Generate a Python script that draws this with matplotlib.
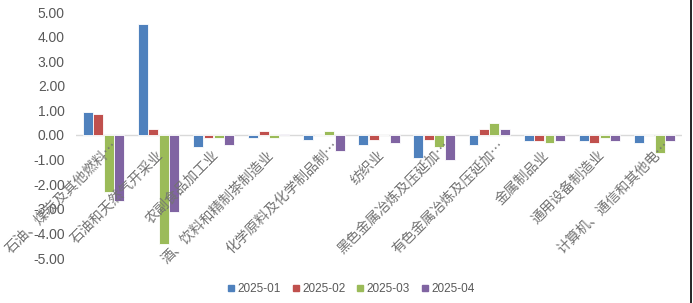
import matplotlib
matplotlib.use('Agg')
import matplotlib.pyplot as plt
import matplotlib.transforms as mtransforms
from matplotlib.lines import Line2D
import numpy as np

plt.rcParams['font.family'] = ['Noto Sans CJK SC', 'DejaVu Sans']
plt.rcParams['axes.unicode_minus'] = False

# categories and monthly values
categories = ['石油、煤炭及其他燃料…', '石油和天然气开采业', '农副食品加工业',
              '酒、饮料和精制茶制造业', '化学原料及化学制品制…', '纺织业',
              '黑色金属冶炼及压延加…', '有色金属冶炼及压延加…', '金属制品业',
              '通用设备制造业', '计算机、通信和其他电…']
months = ['2025-01', '2025-02', '2025-03', '2025-04']
v_2025_01 = [0.95, 4.50, -0.50, -0.12, -0.22, -0.41, -0.94, -0.42, -0.23, -0.23, -0.33]
v_2025_02 = [0.87, 0.24, -0.11, 0.16, 0.00, -0.22, -0.22, 0.23, -0.23, -0.33, 0.00]
v_2025_03 = [-2.33, -4.43, -0.11, -0.12, 0.16, 0.00, -0.49, 0.48, -0.33, -0.13, -0.74]
v_2025_04 = [-2.67, -3.13, -0.42, 0.06, -0.65, -0.31, -1.03, 0.23, -0.23, -0.23, -0.23]
series = [v_2025_01, v_2025_02, v_2025_03, v_2025_04]
colors = ['#4F81BD', '#C0504D', '#9BBB59', '#8064A2']

fig = plt.figure(figsize=(6.93, 3.03), dpi=100)
ax = fig.add_axes([76 / 693, 45 / 303, 606 / 693, 246 / 303])

x = np.arange(len(categories))
slot = 0.19
bar_width = 0.18
for j, vals in enumerate(series):
    ax.bar(x + (j - 1.5) * slot, vals, bar_width, color=colors[j],
           edgecolor='white', linewidth=0.6, label=months[j], zorder=2)

ax.axhline(0, color='#D9D9D9', linewidth=1, zorder=1)
ax.set_xlim(-0.5, len(categories) - 0.5)
ax.set_ylim(-5, 5)
ax.set_yticks(np.arange(-5, 6, 1))
ax.set_yticklabels([f'{v:.2f}' for v in np.arange(-5, 6, 1)],
                   fontfamily='Liberation Sans', fontsize=10, color='#595959')
ax.tick_params(axis='y', length=0, pad=8)
ax.set_xticks([])
for s in ax.spines.values():
    s.set_visible(False)

# category labels hang from the zero line, rotated 45 degrees;
# truncated ones let the ellipsis stick out past the anchor
for i, name in enumerate(categories):
    if name.endswith('…'):
        dx, dy = 12.8, -8.2
    else:
        dx, dy = 3, -18
    trans = mtransforms.offset_copy(ax.transData, fig=fig, x=dx, y=dy, units='dots')
    ax.text(i, 0, name, transform=trans, rotation=45, ha='right', va='center',
            rotation_mode='anchor', fontsize=10, color='#737373', zorder=3)

handles = [Line2D([], [], marker='s', linestyle='none', markersize=5,
                  markerfacecolor=c, markeredgecolor=c) for c in colors]
fig.legend(handles, months, loc='center', bbox_to_anchor=(0.506, 0.046), ncol=4,
           frameon=False, handletextpad=0.2, columnspacing=0.9, handlelength=0.7,
           prop={'family': 'Liberation Sans', 'size': 8.5}, labelcolor='#595959')

fig.add_artist(Line2D([690.5 / 693, 690.5 / 693], [0, 1], color='black',
                      linewidth=1.2, transform=fig.transFigure))

plt.savefig('out.png', dpi=100)
